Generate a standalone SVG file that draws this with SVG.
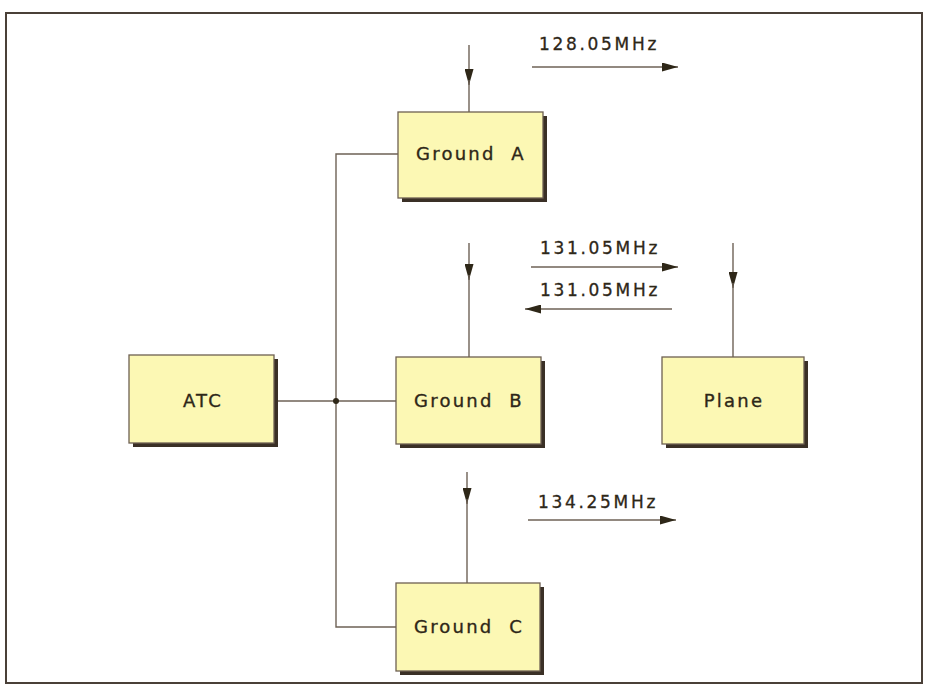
<svg xmlns="http://www.w3.org/2000/svg" width="928" height="688" viewBox="0 0 928 688">
<style>
.box{fill:#fcf8b4;stroke:#6e6052;stroke-width:1.3}
.shadow{fill:#3a3026}
.lbl{font-family:"DejaVu Sans",Verdana,sans-serif;font-size:18px;fill:#2e2718;stroke:#2e2718;stroke-width:0.35;letter-spacing:2.2px;text-anchor:middle;white-space:pre}
.freq{font-family:"DejaVu Sans",Verdana,sans-serif;font-size:17px;fill:#2e2718;stroke:#2e2718;stroke-width:0.3;letter-spacing:2.7px;text-anchor:middle}
.ln{fill:none;stroke:#6e6256;stroke-width:1.4}
</style>
<defs>
<marker id="ah" viewBox="0 0 16 9" refX="16" refY="4.5" markerWidth="16" markerHeight="9" markerUnits="userSpaceOnUse" orient="auto">
<path d="M0,0 L16,4.5 L0,9 Z" fill="#2e2718"/>
</marker>
</defs>
<rect x="6" y="13" width="916" height="670" fill="#ffffff" stroke="#4a4038" stroke-width="2"/>
<g id="connectors">
<path class="ln" d="M398 154 H336 V627 H396"/>
<path class="ln" d="M275 401 H396"/>
<circle cx="336" cy="401" r="3" fill="#2e2718"/>
<path class="ln" d="M469 45 V85" marker-end="url(#ah)"/>
<path class="ln" d="M469 80 V112"/>
<path class="ln" d="M469 243 V280" marker-end="url(#ah)"/>
<path class="ln" d="M469 275 V357"/>
<path class="ln" d="M733 243 V288" marker-end="url(#ah)"/>
<path class="ln" d="M733 283 V357"/>
<path class="ln" d="M467 472 V504" marker-end="url(#ah)"/>
<path class="ln" d="M467 499 V583"/>
<path class="ln" d="M532 67 H678" marker-end="url(#ah)"/>
<path class="ln" d="M531 267 H678" marker-end="url(#ah)"/>
<path class="ln" d="M672 309 H525" marker-end="url(#ah)"/>
<path class="ln" d="M528 520 H676" marker-end="url(#ah)"/>
<text class="freq" x="599" y="50">128.05MHz</text>
<text class="freq" x="600" y="254">131.05MHz</text>
<text class="freq" x="600" y="296">131.05MHz</text>
<text class="freq" x="598" y="508">134.25MHz</text>
</g>
<g id="atc">
<rect class="shadow" x="133" y="359" width="145" height="88"/>
<rect class="box" x="129" y="355" width="145" height="88"/>
<text class="lbl" x="203" y="407">ATC</text>
</g>
<g id="groundA">
<rect class="shadow" x="402" y="116" width="145" height="86"/>
<rect class="box" x="398" y="112" width="145" height="86"/>
<text class="lbl" x="471" y="160">Ground  A</text>
</g>
<g id="groundB">
<rect class="shadow" x="400" y="361" width="145" height="87"/>
<rect class="box" x="396" y="357" width="145" height="87"/>
<text class="lbl" x="469" y="407">Ground  B</text>
</g>
<g id="plane">
<rect class="shadow" x="666" y="361" width="142" height="87"/>
<rect class="box" x="662" y="357" width="142" height="87"/>
<text class="lbl" x="734" y="407">Plane</text>
</g>
<g id="groundC">
<rect class="shadow" x="400" y="587" width="144" height="88"/>
<rect class="box" x="396" y="583" width="144" height="88"/>
<text class="lbl" x="469" y="633">Ground  C</text>
</g>
</svg>
